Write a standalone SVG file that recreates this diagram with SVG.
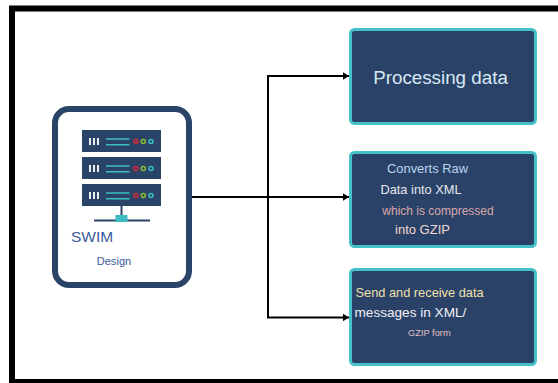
<svg xmlns="http://www.w3.org/2000/svg" width="558" height="383" viewBox="0 0 558 383">
<defs>
<marker id="arr" markerUnits="userSpaceOnUse" markerWidth="7" markerHeight="9" refX="6.500" refY="4.500" orient="auto"><path d="M0 0.500L6.500 4.500L0 8.500z" fill="#000"/></marker>
<g id="srv">
<rect x="0" y="0" width="79" height="22" fill="#2a4468"/>
<path d="M8 8v7M12 8v7M16 8v7" stroke="#fff" stroke-width="1.800" fill="none"/>
<path d="M24 9h23.500M24 14.700h23.500" stroke="#3cbcc4" stroke-width="1.600" fill="none"/>
<circle cx="54" cy="11.500" r="2" fill="none" stroke="#d8283c" stroke-width="1.500"/>
<circle cx="61.300" cy="11.500" r="2" fill="none" stroke="#8cbc34" stroke-width="1.500"/>
<circle cx="69" cy="11.500" r="2" fill="none" stroke="#3cbcc4" stroke-width="1.500"/>
</g>
</defs>
<style>
.box{fill:#2a4268;stroke:#45c1c9;stroke-width:3}
text{font-family:"Liberation Sans",Arial,sans-serif}
.m{text-anchor:middle}
</style>
<rect width="558" height="383" fill="#fff"/>
<path d="M558 8.500H12V382H558" fill="none" stroke="#000" stroke-width="6"/>
<g id="connectors" fill="none" stroke="#000" stroke-width="2">
<path d="M192 197H268"/>
<path d="M268 197V76H349" marker-end="url(#arr)"/>
<path d="M268 197H349" marker-end="url(#arr)"/>
<path d="M268 197V317.500H349" marker-end="url(#arr)"/>
</g>
<g id="swim">
<rect x="55" y="109" width="134" height="176" rx="14" fill="#fff" stroke="#2a4468" stroke-width="6"/>
<use href="#srv" x="82" y="130"/>
<use href="#srv" x="82" y="157"/>
<use href="#srv" x="82" y="184"/>
<path d="M121.500 206V220M94 220.500H150" stroke="#2a4468" stroke-width="2" fill="none"/>
<rect x="115.500" y="215" width="12" height="7" fill="#3cbcc4"/>
<text x="71" y="242" font-size="15.500" fill="#3d5a9c">SWIM</text>
<text x="96.700" y="265" font-size="11.100" fill="#3d5a9c">Design</text>
</g>
<g id="processing">
<rect class="box" x="350.500" y="29.500" width="185" height="94" rx="4"/>
<text x="440.500" y="84" class="m" font-size="18.800" fill="#d8e8f2">Processing data</text>
</g>
<g id="converts">
<rect class="box" x="350.500" y="152.500" width="185" height="94" rx="4"/>
<text x="427.500" y="173" class="m" font-size="12.900" fill="#b8d8ee">Converts Raw</text>
<text x="421" y="194" class="m" font-size="12.800" fill="#e6e6ee">Data into XML</text>
<text x="438" y="215" class="m" font-size="12" fill="#d8a8a8">which is compressed</text>
<text x="422.500" y="234" class="m" font-size="13" fill="#f0d8d0">into GZIP</text>
</g>
<g id="send">
<rect class="box" x="350.500" y="269.500" width="185" height="95" rx="4"/>
<text x="355.500" y="296.500" font-size="12.800" fill="#f0e0a8">Send and receive data</text>
<text x="354.500" y="317" font-size="13.600" fill="#f0f0f4">messages in XML/</text>
<text x="408" y="336" font-size="9.300" fill="#e0c0c0">GZIP form</text>
</g>
</svg>
